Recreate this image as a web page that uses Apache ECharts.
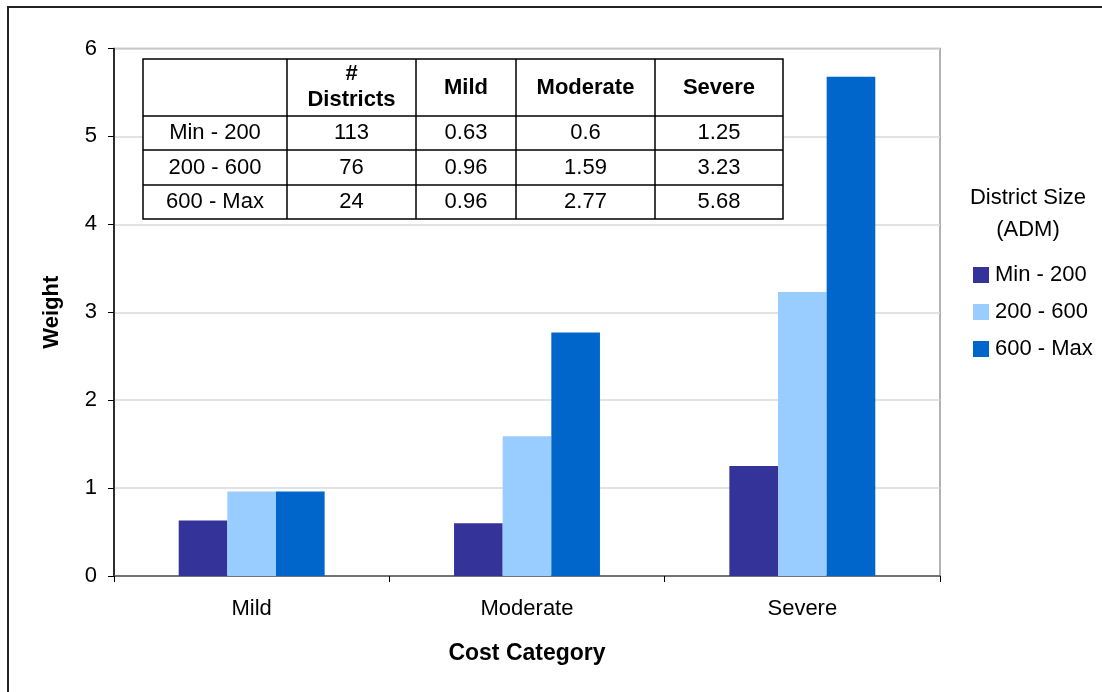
<!DOCTYPE html>
<html>
<head>
<meta charset="utf-8">
<title>Weight by Cost Category</title>
<script src="https://cdn.jsdelivr.net/npm/echarts@6/dist/echarts.min.js"></script>
<style>
  html, body { margin: 0; padding: 0; background: #fff; }
  #chart { width: 1102px; height: 692px; }
</style>
</head>
<body>
<div id="chart"></div>
<script>
// Cost categories on the x axis
const categories = ['Mild', 'Moderate', 'Severe'];
// District size groups (legend + table rows)
const sizeGroups = ['Min - 200', '200 - 600', '600 - Max'];
// Number of districts in each size group
const districtCounts = [113, 76, 24];
// Weights per size group, by cost category
const weightsMin200 = [0.63, 0.6, 1.25];
const weights200600 = [0.96, 1.59, 3.23];
const weights600Max = [0.96, 2.77, 5.68];
// Y axis ticks
const yTicks = [0, 1, 2, 3, 4, 5, 6];

const seriesValues = [weightsMin200, weights200600, weights600Max];
const colors = ['#333399', '#99ccff', '#0066cc'];
const FONT = '"Liberation Sans", Arial, sans-serif';
const FS = 22;

// ---- summary table drawn on top of the plot ----
const colX = [143, 287, 416, 516, 655, 783];
const rowY = [59, 116, 150, 185, 219];
const tableEls = [];
tableEls.push({
  type: 'rect', z: 10,
  shape: { x: colX[0], y: rowY[0], width: colX[5] - colX[0], height: rowY[4] - rowY[0] },
  style: { fill: '#fff', stroke: '#000', lineWidth: 1.5 }
});
for (let i = 1; i < colX.length - 1; i++) {
  tableEls.push({ type: 'line', z: 11,
    shape: { x1: colX[i], y1: rowY[0], x2: colX[i], y2: rowY[4] },
    style: { stroke: '#000', lineWidth: 1.5 } });
}
for (let j = 1; j < rowY.length - 1; j++) {
  tableEls.push({ type: 'line', z: 11,
    shape: { x1: colX[0], y1: rowY[j], x2: colX[5], y2: rowY[j] },
    style: { stroke: '#000', lineWidth: 1.5 } });
}
function cellText(col, row, str, bold, dy) {
  tableEls.push({
    type: 'text', z: 12,
    x: (colX[col] + colX[col + 1]) / 2,
    y: (rowY[row] + rowY[row + 1]) / 2 + (dy || 0),
    style: {
      text: str, fill: '#000', align: 'center', verticalAlign: 'middle',
      font: (bold ? 'bold ' : '') + FS + 'px ' + FONT
    }
  });
}
// header row
cellText(1, 0, '#', true, -14);
cellText(1, 0, 'Districts', true, 12);
categories.forEach((c, k) => cellText(2 + k, 0, c, true, 0));
// body rows
sizeGroups.forEach((g, r) => {
  cellText(0, r + 1, g, false, 0);
  cellText(1, r + 1, String(districtCounts[r]), false, 0);
  seriesValues[r].forEach((v, k) => cellText(2 + k, r + 1, String(v), false, 0));
});

const chart = echarts.init(document.getElementById('chart'), null, { renderer: 'canvas' });
chart.setOption({
  animation: false,
  backgroundColor: '#fff',
  textStyle: { fontFamily: FONT },
  grid: {
    left: 114, top: 48.5, right: 162, bottom: 116,
    show: true, borderColor: '#999', borderWidth: 1.5, backgroundColor: '#fff'
  },
  legend: {
    orient: 'vertical',
    left: 973, top: 264,
    padding: 0,
    itemWidth: 16, itemHeight: 16, itemGap: 15,
    icon: 'rect',
    data: sizeGroups,
    textStyle: { fontSize: FS, color: '#000', fontFamily: FONT, padding: [0, 0, 0, 1] }
  },
  xAxis: {
    type: 'category',
    data: categories,
    axisLine: { show: true, lineStyle: { color: '#555', width: 1.5 } },
    axisTick: { show: true, alignWithLabel: false, length: 6, lineStyle: { color: '#000' } },
    axisLabel: { fontSize: FS, color: '#000', margin: 22, fontFamily: FONT },
    name: 'Cost Category',
    nameLocation: 'middle',
    nameGap: 66,
    nameTextStyle: { fontSize: 23, fontWeight: 'bold', color: '#000', fontFamily: FONT }
  },
  yAxis: {
    type: 'value',
    min: yTicks[0], max: yTicks[yTicks.length - 1], interval: 1,
    axisLine: { show: true, lineStyle: { color: '#000', width: 1.5 } },
    axisTick: { show: true, length: 6, lineStyle: { color: '#000' } },
    axisLabel: { fontSize: FS, color: '#000', margin: 17, fontFamily: FONT },
    splitLine: { show: true, lineStyle: { color: '#d9d9d9', width: 1.5 } },
    name: 'Weight',
    nameLocation: 'middle',
    nameRotate: 90,
    nameGap: 51,
    nameTextStyle: { fontSize: FS, fontWeight: 'bold', color: '#000', fontFamily: FONT }
  },
  series: sizeGroups.map((g, i) => ({
    name: g,
    type: 'bar',
    data: seriesValues[i],
    barGap: '0%',
    barCategoryGap: '47%',
    itemStyle: { color: colors[i] },
    z: 2
  })),
  graphic: [
    {
      type: 'rect', silent: true, z: 100,
      shape: { x: 8, y: 7, width: 1200, height: 800 },
      style: { fill: 'none', stroke: '#222', lineWidth: 2 }
    },
    {
      type: 'text', z: 20, x: 1028, y: 198,
      style: { text: 'District Size', fill: '#000', align: 'center', verticalAlign: 'middle', font: FS + 'px ' + FONT }
    },
    {
      type: 'text', z: 20, x: 1028, y: 230,
      style: { text: '(ADM)', fill: '#000', align: 'center', verticalAlign: 'middle', font: FS + 'px ' + FONT }
    },
    { type: 'group', z: 10, children: tableEls }
  ]
});
</script>
</body>
</html>
